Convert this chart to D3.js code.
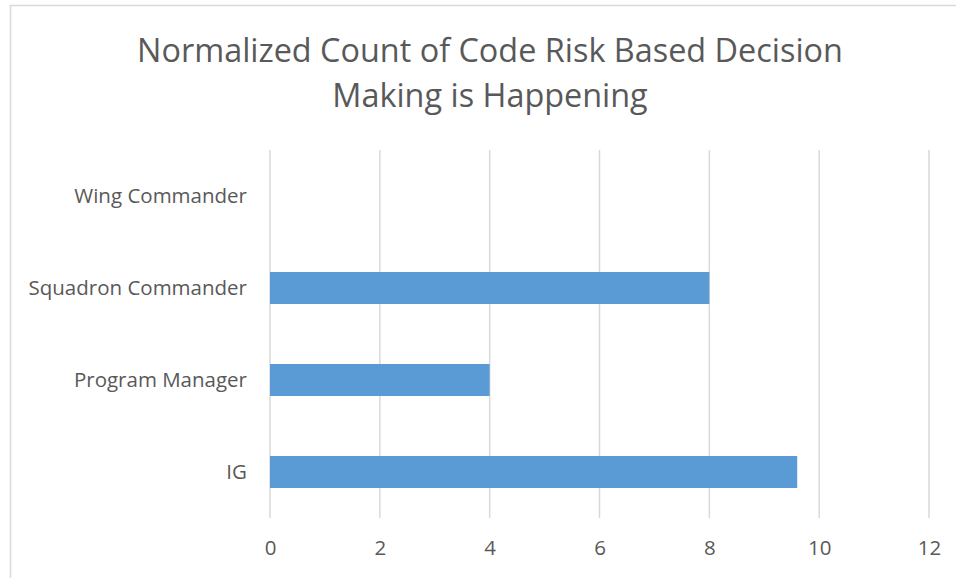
<!DOCTYPE html>
<html><head><meta charset="utf-8">
<script src="https://cdn.jsdelivr.net/npm/d3@7"></script>
<style>body{margin:0;background:#fff}svg{display:block}</style>
</head><body>
<script>
const categories = ["Wing Commander", "Squadron Commander", "Program Manager", "IG"];
const values = [0, 8, 4, 9.6];
const xTicks = [0, 2, 4, 6, 8, 10, 12];
const titleLines = ["Normalized Count of Code Risk Based Decision", "Making is Happening"];

const W = 956, H = 578;
const svg = d3.select("body").append("svg").attr("width", W).attr("height", H);
const font = "'Open Sans', Carlito, Calibri, sans-serif";
const textColor = "#595959";

svg.append("rect").attr("x", 10.5).attr("y", 5.5).attr("width", W + 10).attr("height", H + 10)
  .attr("fill", "#fff").attr("stroke", "#d9d9d9").attr("stroke-width", 1.5);

const x = d3.scaleLinear().domain([0, 12]).range([270, 929]);
const y = d3.scaleBand().domain(categories).range([150, 518]).paddingInner(0.652).paddingOuter(0.326);

// gridlines
svg.append("g").selectAll("line").data(xTicks).join("line")
  .attr("x1", d => x(d)).attr("x2", d => x(d)).attr("y1", 150).attr("y2", 518)
  .attr("stroke", "#d9d9d9").attr("stroke-width", 1.5);

// bars
svg.append("g").selectAll("rect").data(categories).join("rect")
  .attr("x", x(0)).attr("y", d => y(d))
  .attr("width", (d, i) => x(values[i]) - x(0)).attr("height", y.bandwidth())
  .attr("fill", "#5b9bd5");

// x axis labels
const xa = svg.append("g").attr("transform", "translate(0,518)")
  .call(d3.axisBottom(x).tickValues(xTicks).tickSize(0).tickPadding(22).tickFormat(d3.format("d")));
xa.select(".domain").remove();
xa.selectAll("text").attr("fill", textColor).style("font-family", font).style("font-size", "20.5px");

// y axis labels
const ya = svg.append("g").attr("transform", "translate(270,0)")
  .call(d3.axisLeft(y).tickSize(0).tickPadding(23));
ya.select(".domain").remove();
ya.selectAll("text").attr("fill", textColor).style("font-family", font).style("font-size", "20.5px");

// title
const t = svg.append("text").attr("text-anchor", "middle").attr("fill", textColor)
  .style("font-family", font).style("font-size", "32.4px");
titleLines.forEach((l, i) => t.append("tspan").attr("x", 490).attr("y", 62 + i * 45).text(l));
</script>
</body></html>
